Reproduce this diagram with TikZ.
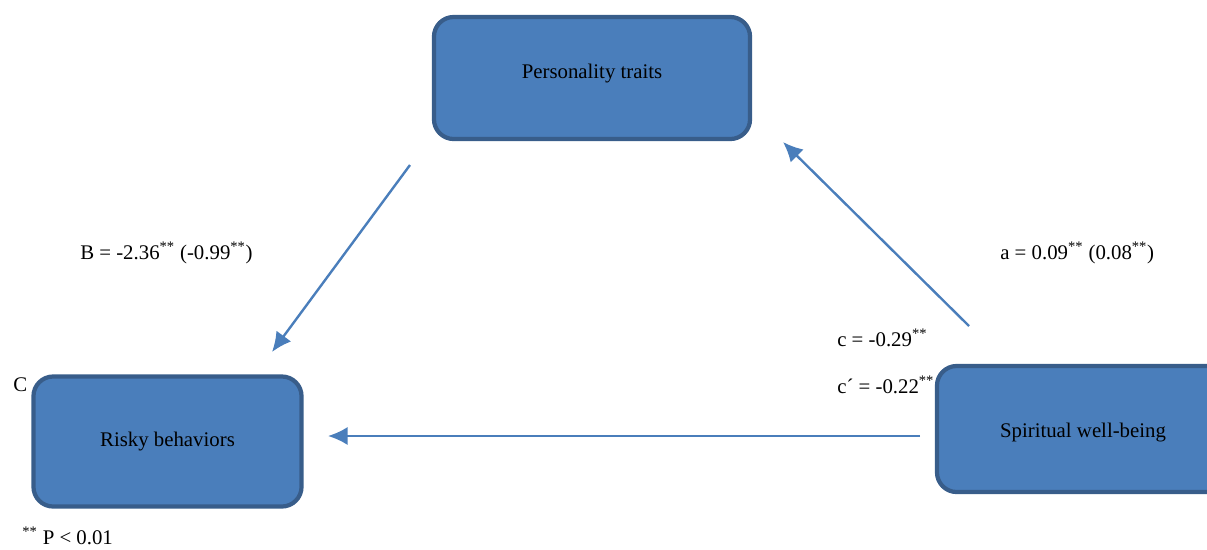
\documentclass[tikz,border=0pt]{standalone}
\usepackage{fontspec}
\setmainfont{Liberation Serif}
\usepackage{xcolor}
\usetikzlibrary{arrows.meta,positioning}
\definecolor{boxfill}{HTML}{4A7EBB}
\definecolor{boxline}{HTML}{385D8A}
\definecolor{linkcol}{HTML}{4A7EBB}
\tikzset{
block/.style = {draw=boxline, fill=boxfill, line width=3pt, rectangle, rounded corners=14pt, font=\fontsize{14.8}{18}\selectfont},
link/.style  = {draw=linkcol, line width=1.7pt, -{Latex[length=14pt,width=13pt]}},
coef/.style  = {anchor=west, inner sep=0pt, font=\fontsize{14.8}{18}\selectfont},
}

\begin{document}
\begin{tikzpicture}[x=0.025cm, y=-0.025cm]
    \useasboundingbox (0,0) rectangle (1207,549);
    \node [block, minimum width=7.9cm, minimum height=3.05cm, text depth=0.35cm] (traits) at (592,78) {Personality traits};
    \node [block, minimum width=6.7cm, minimum height=3.25cm] (risky) at (167.5,441.5) {Risky behaviors};
    \node [block, minimum width=7.3cm, minimum height=3.15cm, text height=0.55cm] (spirit) at (1083,429) {Spiritual well-being};
    % coefficient labels
    \node [coef] (blabel) at (80,253) {B = -2.36\textsuperscript{**} (-0.99\textsuperscript{**})};
    \node [coef] (alabel) at (1000,253) {a = 0.09\textsuperscript{**} (0.08\textsuperscript{**})};
    \node [coef] (clabel) at (837,338) {c = -0.29\textsuperscript{**}};
    \node [coef] (cplabel) at (837,385) {c´ = -0.22\textsuperscript{**}};
    \node [coef] (cname) at (13,385) {C};
    \node [coef] (note) at (22,536) {\textsuperscript{**} P < 0.01};
    % paths
    \coordinate (tstart) at (410,165);
    \coordinate (rend) at (272,352);
    \coordinate (sstart) at (969,326);
    \coordinate (tend) at (783,142);
    \coordinate (cstart) at (920,436);
    \coordinate (cend) at (328,436);
    \draw [link] (tstart) -- (rend);
    \draw [link] (sstart) -- (tend);
    \draw [link] (cstart) -- (cend);
\end{tikzpicture}
\end{document}
